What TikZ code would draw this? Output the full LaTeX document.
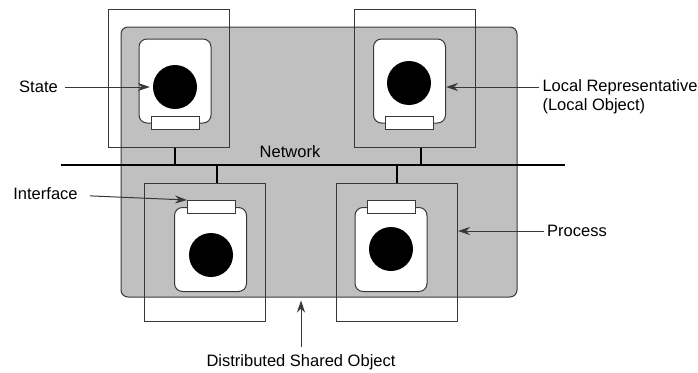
\documentclass[tikz,border=0pt]{standalone}
\usepackage{fontspec}
\setmainfont{Liberation Sans}
\usetikzlibrary{arrows.meta}
\definecolor{dsogray}{RGB}{192,192,192}
\definecolor{linegray}{RGB}{56,56,56}

\begin{document}
\begin{tikzpicture}[x=1pt,y=-1pt,font=\fontsize{16.5}{19}\selectfont,
    >={Stealth[length=12pt,width=8pt]}]
      \useasboundingbox (0,0) rectangle (698,372);

      \node[draw=linegray,fill=dsogray,line width=1pt,rounded corners=7pt,
        minimum width=396pt,minimum height=270pt] (dso) at (319,162) {};

      \begin{scope}[every node/.style={draw=linegray,line width=1pt,inner sep=0pt,
          minimum width=121pt,minimum height=138pt}]
        \node (p1) at (168.5,78)  {};
        \node (p2) at (415,78)    {};
        \node (p3) at (205,252)   {};
        \node (p4) at (397,252)   {};
      \end{scope}

      \begin{scope}[every node/.style={draw=linegray,fill=white,line width=1pt,inner sep=0pt,
          rounded corners=8pt,minimum width=72pt,minimum height=84pt}]
        \node (o1) at (175,81)    {};
        \node (o2) at (409.5,81)  {};
        \node (o3) at (210.5,249.5) {};
        \node (o4) at (391,249.5) {};
      \end{scope}

      \begin{scope}[every node/.style={draw=linegray,fill=white,line width=1pt,inner sep=0pt,
          minimum width=48pt,minimum height=13pt}]
        \node (i1) at (175,122.5)   {};
        \node (i2) at (409,122.5)   {};
        \node (i3) at (211.5,207)   {};
        \node (i4) at (391.5,207)   {};
      \end{scope}

      \begin{scope}[every node/.style={circle,fill=black,inner sep=0pt,minimum size=44pt}]
        \node (c1) at (175,87)  {};
        \node (c2) at (409,83)  {};
        \node (c3) at (211,255) {};
        \node (c4) at (391,249) {};
      \end{scope}

      \coordinate (netl) at (61,165);
      \coordinate (netr) at (565,165);
      \coordinate (t1) at (175,165);
      \coordinate (t2) at (421,165);
      \coordinate (t3) at (217,165);
      \coordinate (t4) at (397,165);

      \draw[line width=2.4pt] (netl) -- (netr);
      \begin{scope}[line width=2pt]
        \draw (t1) -- (t1 |- p1.south);
        \draw (t2) -- (t2 |- p2.south);
        \draw (t3) -- (t3 |- p3.north);
        \draw (t4) -- (t4 |- p4.north);
      \end{scope}

      \node (state)   at (38.5,87)  {State};
      \node (lrep)    at (539,87) [anchor=west] {Local Representative};
      \node (lobj)    at (539,106) [anchor=west] {(Local Object)};
      \node (network) at (290,152) {Network};
      \node (iface)   at (45.5,194) {Interface};
      \node (proc)    at (577,231) {Process};
      \node (shared)  at (301,362) {Distributed Shared Object};

      \begin{scope}[every path/.style={draw=linegray,line width=1pt,->}]
        \path (state) edge[shorten <=4pt,shorten >=3pt] (c1);
        \path (lrep) edge (lrep -| o2.east);
        \path (iface) edge[shorten <=9pt] (i3.north west);
        \path (proc) edge (proc -| p4.east);
        \path (shared) edge[shorten <=4pt,shorten >=3pt] (shared |- dso.south);
      \end{scope}

    \end{tikzpicture}
\end{document}
